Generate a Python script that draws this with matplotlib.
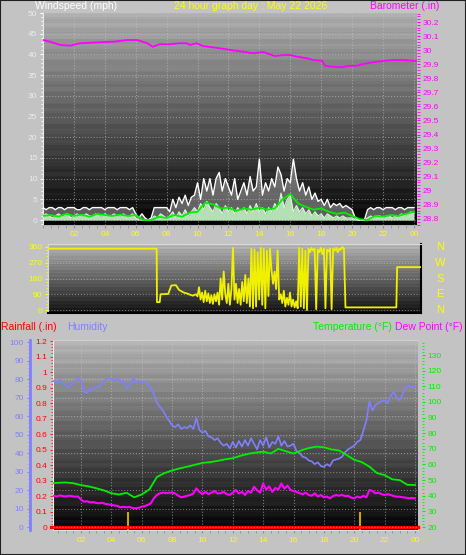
import matplotlib
matplotlib.use('Agg')
import matplotlib.pyplot as plt
import matplotlib.transforms as mtransforms
from matplotlib.patches import Rectangle
from matplotlib.ticker import MultipleLocator
import numpy as np

plt.rcParams['font.family'] = ['Liberation Sans', 'DejaVu Sans']

# ---------------- data ----------------
title = "24 hour graph day : May 22 2026"
hour_labels = ['02', '04', '06', '08', '10', '12', '14', '16', '18', '20', '22', '00']
hour_ticks = [2, 4, 6, 8, 10, 12, 14, 16, 18, 20, 22, 24]

# wind, one value every 0.2 h
wind_hours = np.arange(0, 24.01, 0.2)
wind_gust = [3, 2.5, 3, 3, 2.5,
             3, 3, 2.5, 3, 3,
             3, 2.5, 2.5, 3, 3,
             2.5, 3, 3, 3, 3,
             2.5, 3, 3, 3, 2.5,
             3, 3, 3, 2.5, 3,
             1.5, 0.5, 1.5, 0.5, 0,
             0.5, 3, 3, 3, 3,
             3, 2, 5, 3, 5.5,
             4, 6, 3.5, 5.5, 6,
             9, 5, 10, 7, 10,
             6, 10, 11.5, 7, 10,
             8, 6, 10, 5, 7,
             9, 6, 10.5, 7, 8,
             14.7, 6, 9, 7, 10,
             8, 12.8, 11, 7, 10,
             9, 14.7, 10, 7, 9,
             6, 8, 5, 6.5, 4.5,
             5, 3.5, 5, 3, 4,
             3.5, 4, 3, 3.5, 3,
             2.5, 0.5, 0, 0, 0,
             2.5, 3, 2.5, 3, 3,
             2.5, 3, 3, 3, 2.5,
             3, 3, 2.5, 3, 3,
             3]
wind_speed = [1, 1.5, 1, 0.5, 1,
              1.5, 1, 1, 1.5, 0.5,
              1, 1.5, 1, 1, 1.5,
              1, 1, 1.5, 1, 1,
              1.5, 1, 1, 1.5, 1,
              1, 1.5, 1, 1, 1.5,
              0.5, 0, 0, 0, 0,
              0, 1, 0.5, 1.5, 1,
              0.5, 1, 2, 0.5, 2,
              1, 2.5, 1, 2, 3,
              2, 4, 2.5, 4.5, 3,
              2, 4, 3, 1.5, 3.5,
              2, 3, 1.5, 3, 2,
              3, 1.5, 3.5, 2, 4,
              2, 3, 1.5, 3, 2,
              4, 2.5, 6.5, 3, 5,
              6, 2, 3.5, 2, 3,
              1.5, 2.5, 1, 2, 1,
              1.5, 0.5, 1.5, 1, 0.5,
              1, 0.5, 1, 0.5, 0.5,
              0.5, 0, 0, 0, 0,
              0.5, 1, 0.5, 1, 1,
              0.5, 1, 1, 0.5, 1,
              1, 1.5, 1, 1.5, 2,
              1.5]
# average wind, every 0.5 h
avg_hours = np.arange(0, 24.01, 0.5)
wind_avg = [1.0, 1.2, 0.8, 1.5, 1.0, 1.3, 0.8, 1.5, 1.2, 1.0, 1.3, 1.0, 1.2,
            0, 0, 0.8, 0.5, 1.2, 0.8, 1.8, 2.0, 4.2, 3.8, 2.8, 3.0, 2.2,
            2.8, 2.5, 3.0, 2.5, 2.8, 5.0, 6.3, 4.0, 3.2, 2.5, 2.8, 2.0,
            1.5, 1.8, 1.0, 0.2, 0, 1.0, 0.8, 1.2, 1.0, 1.5, 2.0]

baro_hours = [0.0, 0.45, 1.1, 1.75, 2.4, 3.7, 4.55, 5.45, 6.1, 6.75, 7.1, 7.55,
              8.2, 8.85, 9.3, 9.5, 9.95, 10.35, 11.0, 11.45, 11.9, 12.3, 12.95,
              13.6, 14.25, 15.0, 15.55, 16.0, 16.45, 17.1, 17.5, 18.05, 18.25,
              18.75, 19.3, 19.85, 20.3, 20.7, 21.35, 22.0, 22.65, 23.3, 24.2]
baro = [30.072, 30.060, 30.037, 30.032, 30.049, 30.056, 30.060, 30.072, 30.072,
        30.049, 30.024, 30.042, 30.042, 30.049, 30.049, 30.037, 30.049, 30.029,
        30.020, 30.013, 30.006, 29.998, 29.989, 29.978, 29.987, 29.958, 29.965,
        29.965, 29.953, 29.942, 29.930, 29.925, 29.889, 29.882, 29.878, 29.889,
        29.889, 29.901, 29.914, 29.923, 29.930, 29.930, 29.923]

dir_hours = [0.0, 7.05, 7.07, 7.25, 7.3, 7.8, 8.0, 8.3, 8.5, 8.8, 9.0, 9.2, 9.4,
             9.6, 9.7, 9.8, 9.9, 10.0, 10.1, 10.2, 10.3, 10.4, 10.5, 10.6, 10.7,
             10.8, 10.9, 11.0, 11.1, 11.2, 11.3, 11.4, 11.5, 11.6, 11.7, 11.8,
             11.9, 12.0, 12.1, 12.2, 12.3, 12.4, 12.5, 12.6, 12.7, 12.8, 12.9,
             13.0, 13.1, 13.2, 13.3, 13.4, 13.5, 13.6, 13.7, 13.8, 13.9, 14.0,
             14.1, 14.2, 14.3, 14.4, 14.5, 14.6, 14.7, 14.8, 14.9, 15.0, 15.1,
             15.2, 15.3, 15.4, 15.5, 15.6, 15.7, 15.8, 15.9, 16.0, 16.1, 16.2,
             16.3, 16.4, 16.5, 16.6, 16.7, 16.8, 16.9, 17.0, 17.1, 17.2, 17.3,
             17.4, 17.5, 17.6, 17.7, 17.8, 17.9, 18.0, 18.1, 18.2, 18.3, 18.4,
             18.5, 18.6, 18.7, 18.8, 18.9, 19.0, 19.1, 19.2, 19.3, 22.6, 22.65,
             24.2]
wind_dir = [350, 350, 45, 45, 90, 92, 140, 142, 115, 100, 95, 88, 82,
            90, 78, 130, 60, 100, 45, 110, 50, 95, 40, 85, 35,
            90, 50, 100, 30, 180, 60, 220, 90, 40, 150, 30,
            120, 355, 60, 150, 40, 120, 30, 160, 50, 200, 40,
            180, 20, 350, 10, 345, 20, 330, 60, 355, 30, 350,
            10, 340, 80, 350, 230, 150, 220, 120, 340, 60, 90,
            40, 110, 20, 70, 30, 100, 20, 60, 15, 50, 10,
            355, 20, 350, 10, 340, 0, 350, 330, 355, 340, 350,
            5, 345, 330, 355, 320, 350, 10, 345, 335, 350, 5,
            350, 340, 355, 330, 350, 345, 360, 350, 15, 15, 245,
            245]
dir_names = ['N', 'W', 'S', 'E', 'N']
dir_name_deg = [360, 270, 180, 90, 0]

# humidity and dew point every 0.2 h, temperature every 0.5 h
th_hours = np.arange(0, 24.01, 0.2)
humidity = [78.5, 79, 78, 79.5, 77.5,
            77, 75.5, 77, 79, 80.5,
            79, 73, 72.5, 75, 74,
            76, 75.5, 78, 79.5, 80.5,
            80, 79, 80.5, 78.5, 79,
            75, 76.5, 80.5, 78, 79,
            78, 78.5, 77, 75.5, 72,
            67, 65, 63, 60, 57.5,
            55, 54, 55.5, 53, 54,
            53.5, 55, 53, 59, 52.5,
            51, 52, 49, 48.5, 47,
            48, 45.5, 44, 45, 42.5,
            46, 43, 46.5, 43.5, 47,
            44, 48, 45, 42, 47,
            44, 48.5, 43, 46, 45,
            49, 44, 46.5, 43.5, 44,
            45, 41, 40, 38, 37.5,
            36, 35.5, 34, 35, 33,
            32.5, 34, 33, 36, 36.5,
            37, 38, 40.5, 42, 43,
            44, 46, 47, 52, 57.5,
            68, 63, 66, 67, 68,
            68.5, 67, 71, 73, 70,
            68.5, 72, 75.5, 76, 75.5,
            76]
dew_point = [39.8, 40, 39.5, 40.2, 39.8,
             39.6, 40, 39.8, 39.4, 39.6,
             37.5, 36.2, 36.5, 35.8, 36,
             35.4, 35.2, 35.5, 34.8, 34.5,
             34.1, 33.8, 33.5, 32.6, 32.9,
             32.6, 32.8, 32.2, 32, 32.3,
             33, 33.4, 34.2, 35.2, 38.4,
             40.5, 41.6, 42, 41.8, 41.9,
             42, 41.5, 40, 39, 39.5,
             40, 40.5, 41.5, 44.7, 42.5,
             41, 42.5, 41.1, 42, 43,
             41.5, 41.6, 42.5, 41, 40.5,
             42, 43.7, 41.5, 42.5, 40.5,
             43, 42, 45.8, 43.5, 42,
             47.9, 44, 46, 42.5, 45,
             44, 47.9, 44.5, 46.5, 43.7,
             43, 42.5, 41.6, 41, 42,
             40.5, 40, 41.6, 39.5, 40.5,
             39, 39.5, 38.4, 39.8, 40.5,
             40, 40.5, 39.8, 40, 38.8,
             38.4, 39.5, 38.8, 40, 39,
             43.7, 43, 41.6, 42, 41,
             40.5, 41, 40.5, 39.8, 39.4,
             39.4, 39, 38.8, 38.4, 38.6,
             38.4]
temp_hours = np.arange(0, 24.01, 0.5)
temperature = [48, 48.3, 48.5, 48, 46.8, 46, 44.8, 43.5, 41.6, 40.8, 41.9, 39,
               40.8, 44, 52, 54.5, 56.2, 57.5, 58.6, 59.8, 61, 61.5, 62.3, 63.3,
               64, 65.5, 66.8, 67.6, 68.2, 67, 70, 68.5, 67, 69, 70.5, 71.4,
               71, 69.6, 69, 66, 63, 61.5, 58.6, 54.5, 53.2, 50.5, 50, 47, 46.9]

rain_hours = [0.0, 24.2]
rainfall = [0.0, 0.0]
rain_rate_hours = [5.1, 20.4]
rain_rate = [0.1, 0.1]

# ---------------- layout ----------------
W, H = 466, 555
fig = plt.figure(figsize=(W / 100, H / 100), dpi=100)
fig.patch.set_facecolor('#c3c3c3')


def box(l, t, r, b):
    return [l / W, 1 - b / H, (r - l) / W, (b - t) / H]


def gradient(ax, top, bottom):
    # vertical grey ramp with a faint striped texture, like the original
    g = np.linspace(top, bottom, 200).reshape(-1, 1)
    g = np.round(g * 48) / 48
    stripe = ((np.arange(200) // 5) % 2).reshape(-1, 1) * 0.025
    g = np.clip(g - stripe, 0, 1)
    ax.imshow(g, extent=[0, 1, 0, 1], transform=ax.transAxes, aspect='auto',
              cmap='gray', vmin=0, vmax=1, zorder=0, interpolation='nearest')


grid_kw = dict(color='#c8c8c8', linestyle=':', linewidth=0.8, alpha=0.55)
YEL = '#ffff00'
MAG = '#ff00ff'
GRN = '#00f000'
BLU = '#8080ff'

# ---- panel 1: wind speed / barometer
ax1 = fig.add_axes(box(43, 13, 417, 225))
gradient(ax1, 0.70, 0.02)
ax1.fill_between(wind_hours, 0, wind_gust, color='#b4b4b4', alpha=0.5, lw=0, zorder=1)
ax1.fill_between(wind_hours, 0, wind_speed, color='#bfeebf', alpha=0.9, lw=0, zorder=2)
ax1.plot(wind_hours, wind_speed, color='#d8f8d8', lw=0.8, zorder=2)
ax1.plot(wind_hours, wind_gust, color='white', lw=1.0, zorder=3)
ax1.plot(avg_hours, wind_avg, color='#00f000', lw=1.3, zorder=4)
ax1.set_xlim(0, 24.2)
ax1.set_ylim(-1.2, 50)
ax1.set_xticks(hour_ticks)
ax1.set_xticklabels(hour_labels)
ax1.xaxis.set_minor_locator(MultipleLocator(0.5))
ax1.set_yticks(range(0, 51, 5))
ax1.yaxis.set_minor_locator(MultipleLocator(1))
ax1.tick_params(axis='x', which='both', colors='#909090', labelcolor=YEL, labelsize=6, length=2, pad=2)
ax1.tick_params(axis='y', which='both', colors='white', labelcolor='#e6ecf5', labelsize=6, length=2, pad=2)
ax1.tick_params(axis='y', which='minor', length=1.5)
ax1.grid(True, **grid_kw)
for s in ['top', 'right']:
    ax1.spines[s].set_visible(False)
ax1.spines['left'].set_color('#e8e8e8')
ax1.spines['bottom'].set_color('#b0b0b0')

ax1b = ax1.twinx()
ax1b.plot(baro_hours, baro, color=MAG, lw=1.3)
ax1b.set_ylim(28.757, 30.264)
bticks = [28.8, 28.9, 29.0, 29.1, 29.2, 29.3, 29.4, 29.5, 29.6, 29.7, 29.8, 29.9, 30.0, 30.1, 30.2]
ax1b.set_yticks(bticks)
ax1b.set_yticklabels([f'{v:g}' for v in bticks])
ax1b.yaxis.set_minor_locator(MultipleLocator(0.02))
ax1b.tick_params(axis='y', which='both', colors=MAG, labelcolor=MAG, labelsize=6, length=2, pad=2)
for s in ['top', 'left', 'bottom', 'right']:
    ax1b.spines[s].set_visible(False)

fig.text(35 / W, 1 - 6 / H, 'Windspeed (mph)', color='white', fontsize=7.5, va='center', ha='left')
fig.text(251 / W, 1 - 6 / H, title, color=YEL, fontsize=7.5, va='center', ha='center')
fig.text(439 / W, 1 - 6 / H, 'Barometer (.in)', color=MAG, fontsize=7.5, va='center', ha='right')

# ---- panel 2: wind direction
ax2 = fig.add_axes(box(48, 244, 421, 313))
gradient(ax2, 0.72, 0.08)
ax2.plot(dir_hours, wind_dir, color='#f0f000', lw=1.3, zorder=3)
ax2.set_xlim(0, 24.2)
ax2.set_ylim(-17, 377)
ax2.set_xticks([])
ax2.set_yticks([0, 90, 180, 270, 360])
ax2.yaxis.set_minor_locator(MultipleLocator(18))
ax2.tick_params(axis='y', which='both', colors=YEL, labelcolor=YEL, labelsize=6, length=2, pad=2)
ax2.tick_params(axis='y', which='minor', length=1.5)
ax2.grid(True, axis='y', **grid_kw)
ax2.spines['top'].set_color('#d8d8d8')
ax2.spines['left'].set_color('#d8d8d8')
ax2.spines['bottom'].set_color('black')
ax2.spines['right'].set_color('black')
ax2.spines['bottom'].set_linewidth(1.5)
ax2.spines['right'].set_linewidth(1.5)
bt = mtransforms.blended_transform_factory(fig.transFigure, ax2.transData)
for name, deg in zip(dir_names, dir_name_deg):
    ax2.text(440 / W, deg, name, transform=bt, color=YEL, fontsize=8,
             ha='center', va='center', clip_on=False)

# ---- panel 3: rain / humidity / temperature / dew point
ax3 = fig.add_axes(box(53, 340, 418, 530))
gradient(ax3, 0.72, 0.03)
ax3.vlines(rain_rate_hours, -0.02, rain_rate, color='#c8a800', lw=1.5, zorder=3)
ax3.plot(rain_hours, rainfall, color='#ff0000', lw=2.4, zorder=6, clip_on=False)
ax3.set_xlim(0.155, 24.2)
ax3.set_ylim(-0.019, 1.2065)
ax3.set_xticks(hour_ticks)
ax3.set_xticklabels(hour_labels)
ax3.xaxis.set_minor_locator(MultipleLocator(0.5))
rticks = [round(0.1 * i, 1) for i in range(13)]
ax3.set_yticks(rticks)
ax3.set_yticklabels([f'{v:g}' for v in rticks])
ax3.yaxis.set_minor_locator(MultipleLocator(0.02))
ax3.tick_params(axis='x', which='both', colors='#909090', labelcolor=YEL, labelsize=6, length=2, pad=3)
ax3.tick_params(axis='y', which='both', colors='#ff2020', labelcolor='#ff0000', labelsize=6, length=2, pad=2)
ax3.tick_params(axis='y', which='minor', length=1.5)
ax3.grid(True, axis='x', **grid_kw)
ax3.spines['left'].set_color('#f0f0f0')
ax3.spines['bottom'].set_color('#e0e0e0')
ax3.spines['top'].set_color('#d0d0d0')
ax3.spines['right'].set_visible(False)

ax_h = ax3.twinx()
ax_h.plot(th_hours, humidity, color=BLU, lw=1.2, zorder=3)
ax_h.set_ylim(-1.6, 101.1)
ax_h.yaxis.tick_left()
ax_h.spines['left'].set_position(('axes', (30 - 53) / 365))
ax_h.spines['left'].set_color(BLU)
ax_h.spines['left'].set_linewidth(2)
for s in ['top', 'right', 'bottom']:
    ax_h.spines[s].set_visible(False)
ax_h.set_yticks(range(0, 101, 10))
ax_h.yaxis.set_minor_locator(MultipleLocator(2))
ax_h.tick_params(axis='y', which='both', colors=BLU, labelcolor=BLU, labelsize=6, length=2.5, pad=2)
ax_h.tick_params(axis='y', which='minor', length=1.5)
ax_h.grid(True, axis='y', **grid_kw)

ax_t = ax3.twinx()
ax_t.plot(temp_hours, temperature, color=GRN, lw=1.3, zorder=3)
ax_t.plot(th_hours, dew_point, color=MAG, lw=1.5, zorder=3)
ax_t.set_ylim(18.1, 139.6)
ax_t.spines['right'].set_position(('axes', 1 + 4 / 365))
for s in ['top', 'left', 'bottom', 'right']:
    ax_t.spines[s].set_visible(False)
ax_t.set_yticks(range(20, 131, 10))
ax_t.yaxis.set_minor_locator(MultipleLocator(2))
ax_t.tick_params(axis='y', which='both', colors=GRN, labelcolor=GRN, labelsize=6, length=2, pad=2)
ax_t.tick_params(axis='y', which='minor', length=1.5)

fig.text(1 / W, 1 - 327 / H, 'Rainfall (.in)', color='#ff0000', fontsize=7.5, va='center', ha='left')
fig.text(67 / W, 1 - 327 / H, 'Humidity', color=BLU, fontsize=7.5, va='center', ha='left')
fig.text(313 / W, 1 - 327 / H, 'Temperature (°F)', color=GRN, fontsize=7.5, va='center', ha='left')
fig.text(463 / W, 1 - 327 / H, 'Dew Point (°F)', color=MAG, fontsize=7.5, va='center', ha='right')

fig.add_artist(Rectangle((0, 0), 1, 1, transform=fig.transFigure, fill=False,
                         edgecolor='#202020', lw=1.5))

fig.savefig('out.png', dpi=100, facecolor=fig.get_facecolor())
